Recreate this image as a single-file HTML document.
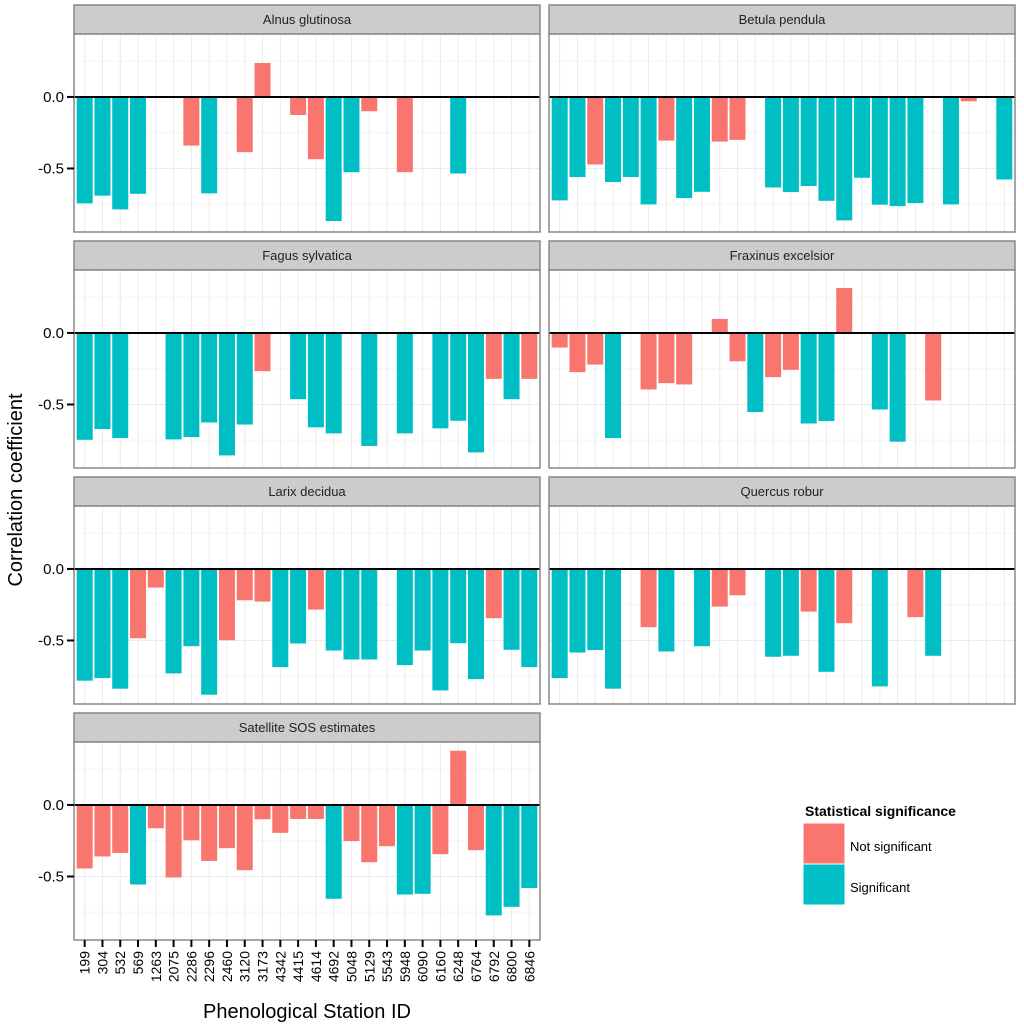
<!DOCTYPE html>
<html><head><meta charset="utf-8"><style>
html,body{margin:0;padding:0;background:#fff;}
svg{display:block;font-family:"Liberation Sans",Arial,sans-serif;}
</style></head><body>
<svg id="chart" width="1024" height="1024" viewBox="0 0 1024 1024" xmlns="http://www.w3.org/2000/svg"></svg>
<script>
const categories = ["199","304","532","569","1263","2075","2286","2296","2460","3120","3173","4342","4415","4614","4692","5048","5129","5543","5948","6090","6160","6248","6764","6792","6800","6846"];
const panelNames = ["Alnus glutinosa","Betula pendula","Fagus sylvatica","Fraxinus excelsior","Larix decidua","Quercus robur","Satellite SOS estimates"];
const yTicks = [0.0, -0.5];
const yTickLabels = ["0.0", "-0.5"];
const alnusValues = [-0.744,-0.69,-0.786,-0.677,null,null,-0.34,-0.674,null,-0.386,0.237,null,-0.126,-0.435,-0.867,-0.526,-0.1,null,-0.526,null,null,-0.535,null,null,null,null];
const alnusSig   = "SSSS..NS.NN.NNSSN.N..S....";
const betulaValues = [-0.723,-0.56,-0.472,-0.595,-0.56,-0.751,-0.305,-0.707,-0.663,-0.312,-0.3,null,-0.633,-0.665,-0.623,-0.726,-0.863,-0.565,-0.753,-0.763,-0.742,null,-0.751,-0.03,null,-0.577];
const betulaSig   = "SSNSSSNSSNN.SSSSSSSSS.SN.S";
const fagusValues = [-0.747,-0.672,-0.735,null,null,-0.744,-0.728,-0.626,-0.856,-0.64,-0.267,null,-0.463,-0.66,-0.702,null,-0.79,null,-0.702,null,-0.667,-0.614,-0.835,-0.321,-0.463,-0.321];
const fagusSig   = "SSS..SSSSSN.SSS.S.S.SSSNSN";
const fraxinusValues = [-0.102,-0.274,-0.221,-0.735,null,-0.395,-0.351,-0.36,null,0.098,-0.198,-0.553,-0.309,-0.258,-0.633,-0.616,0.314,null,-0.535,-0.76,null,-0.472,null,null,null,null];
const fraxinusSig   = "NNNS.NNN.NNSNNSSN.SS.N....";
const larixValues = [-0.781,-0.763,-0.837,-0.484,-0.13,-0.73,-0.54,-0.879,-0.498,-0.219,-0.228,-0.686,-0.521,-0.284,-0.57,-0.633,-0.633,null,-0.672,-0.57,-0.849,-0.519,-0.77,-0.344,-0.565,-0.686];
const larixSig   = "SSSNNSSSNNNSSNSSS.SSSSSNSS";
const quercusValues = [-0.763,-0.584,-0.567,-0.837,null,-0.407,-0.577,null,-0.54,-0.263,-0.184,null,-0.614,-0.607,-0.298,-0.719,-0.379,null,-0.821,null,-0.337,-0.607,null,null,null,null];
const quercusSig   = "SSSS.NS.SNN.SSNSN.S.NS....";
const satelliteValues = [-0.444,-0.36,-0.335,-0.556,-0.163,-0.507,-0.247,-0.391,-0.302,-0.456,-0.1,-0.195,-0.098,-0.098,-0.656,-0.253,-0.4,-0.288,-0.626,-0.621,-0.344,0.379,-0.316,-0.772,-0.712,-0.581];
const satelliteSig   = "NNNSNNNNNNNNNNSNNNSSNNNSSS";

const panelValues = [alnusValues,betulaValues,fagusValues,fraxinusValues,larixValues,quercusValues,satelliteValues];
const panelSig = [alnusSig,betulaSig,fagusSig,fraxinusSig,larixSig,quercusSig,satelliteSig];

const NS = "http://www.w3.org/2000/svg";
const svg = document.getElementById("chart");
const RED = "#F8766D", TEAL = "#00BFC4";
const colX = [74, 549], rowY = [5, 241, 477, 713];
const PW = 466, STRIP = 29, PH = 198;
const yMax = 0.44, yMin = -0.944;
function mk(tag, attrs, parent){const e=document.createElementNS(NS,tag);for(const k in attrs)e.setAttribute(k,attrs[k]);(parent||svg).appendChild(e);return e;}
function xScale(i, x0){const u = PW/(categories.length+0.2); return x0 + (i+0.6)*u;}
function bandW(){return 0.9*PW/(categories.length+0.2);}
function yScale(v, top){return top + (yMax - v)/(yMax - yMin)*PH;}

panelNames.forEach((name, p) => {
  const col = p % 2, row = Math.floor(p/2);
  const x0 = colX[col], sTop = rowY[row], top = sTop + STRIP, bot = top + PH;
  const g = mk("g", {});
  
  
  // strip
  const strip = mk("rect", {x:x0, y:sTop, width:PW, height:STRIP, fill:"#CCCCCC", stroke:"#888", "stroke-width":1.5}, g);
  
  
  const st = mk("text", {x:x0+PW/2, y:sTop+19, "text-anchor":"middle", "font-size":13, fill:"#222"}, g);
  st.textContent = name;
  
  
  // background
  mk("rect", {x:x0, y:top, width:PW, height:PH, fill:"#fff"}, g);
  // minor grid
  [0.25,-0.25,-0.75].forEach(v => mk("line", {x1:x0, x2:x0+PW, y1:yScale(v,top), y2:yScale(v,top), stroke:"#F5F5F5", "stroke-width":1}, g));
  yTicks.forEach(v => mk("line", {x1:x0, x2:x0+PW, y1:yScale(v,top), y2:yScale(v,top), stroke:"#EBEBEB", "stroke-width":1}, g));
  categories.forEach((c,i) => mk("line", {x1:xScale(i,x0), x2:xScale(i,x0), y1:top, y2:bot, stroke:"#EBEBEB", "stroke-width":1}, g));
  // bars
  const vals = panelValues[p], sig = panelSig[p];
  vals.forEach((v,i) => {
    if (v === null) return;
    const y0 = yScale(0,top), y1 = yScale(v,top);
    const b = mk("rect", {x:xScale(i,x0)-bandW()/2, y:Math.min(y0,y1), width:bandW(), height:Math.abs(y1-y0), fill: sig[i]==="S"?TEAL:RED}, g);
    
    
  });
  // zero line
  const zl = mk("line", {x1:x0, x2:x0+PW, y1:yScale(0,top), y2:yScale(0,top), stroke:"#000", "stroke-width":2}, g);
  
  
  // border
  mk("rect", {x:x0, y:top, width:PW, height:PH, fill:"none", stroke:"#888", "stroke-width":1.5}, g);
  // y axis
  if (col === 0) {
    yTicks.forEach((v,k) => {
      const yy = yScale(v,top);
      mk("line", {x1:x0-7, x2:x0, y1:yy, y2:yy, stroke:"#000", "stroke-width":2}, g);
      const t = mk("text", {x:x0-10, y:yy+5, "text-anchor":"end", "font-size":15, fill:"#000"}, g);
      t.textContent = yTickLabels[k];
      
      
    });
  }
  // x axis on bottom-left panel
  if (p === 6) {
    categories.forEach((c,i) => {
      const xx = xScale(i,x0);
      mk("line", {x1:xx, x2:xx, y1:bot, y2:bot+7, stroke:"#000", "stroke-width":2}, g);
      const t = mk("text", {x:0, y:0, "text-anchor":"end", "font-size":14, fill:"#000", transform:`translate(${xx+5},${bot+11}) rotate(-90)`}, g);
      t.textContent = c;
      
      
    });
  }
});

// axis titles
const xt = mk("text", {x:307, y:1018, "text-anchor":"middle", "font-size":20, fill:"#000"});
xt.textContent = "Phenological Station ID";


const yt = mk("text", {x:0, y:0, "text-anchor":"middle", "font-size":20, fill:"#000", transform:"translate(22,490) rotate(-90)"});
yt.textContent = "Correlation coefficient";



// legend
const lg = mk("g", {});


const lt = mk("text", {x:805, y:816, "font-size":14, "font-weight":"bold", fill:"#000"}, lg);
lt.textContent = "Statistical significance";


const legendLabels = ["Not significant","Significant"];
const legendColors = [RED, TEAL];
legendLabels.forEach((l,k) => {
  const r = mk("rect", {x:803, y:823+k*41, width:42, height:41, fill:legendColors[k], stroke:"#fff", "stroke-width":1}, lg);
  
  
  const t = mk("text", {x:850, y:851+k*41, "font-size":13, fill:"#000"}, lg);
  t.textContent = l;
  
  
});
</script>
</body></html>
